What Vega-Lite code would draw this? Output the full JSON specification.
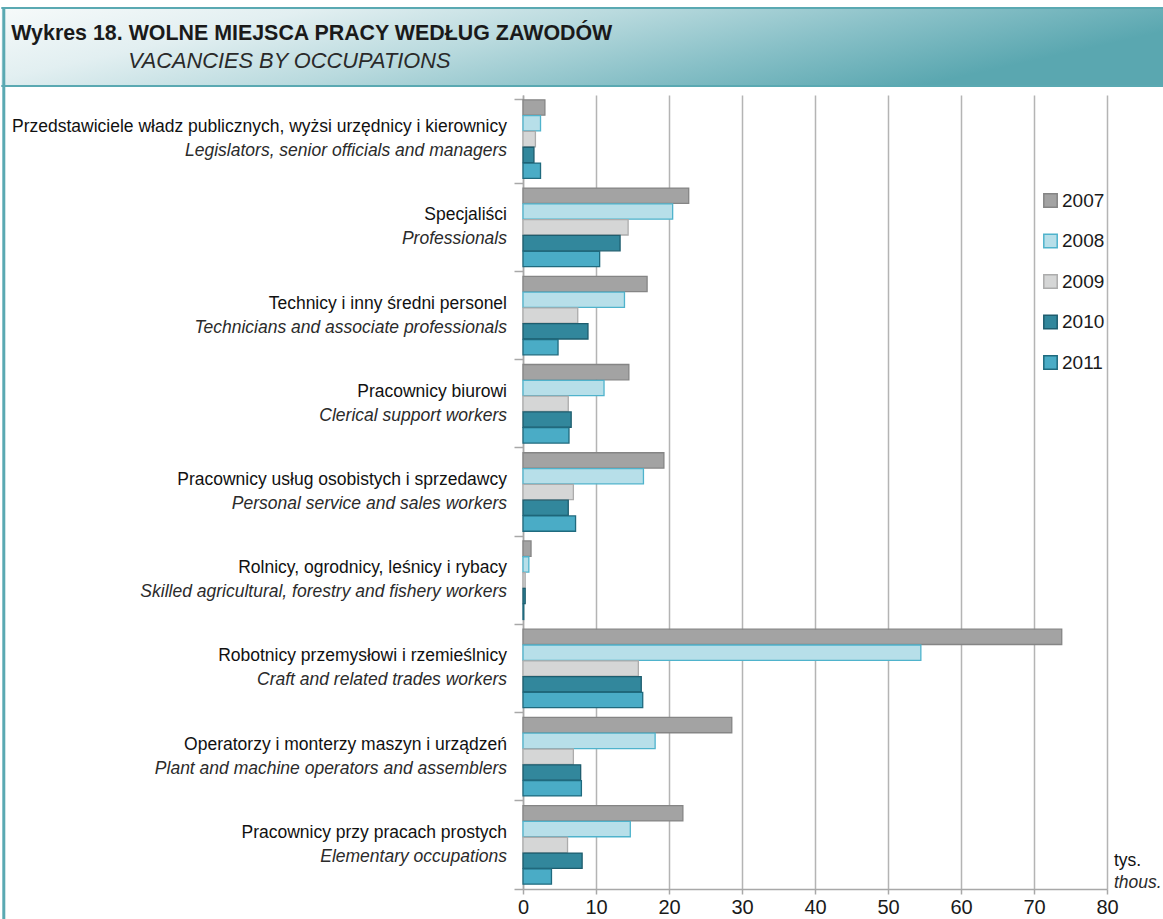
{
  "$schema": "https://vega.github.io/schema/vega-lite/v6.json",
  "background": "white",
  "padding": {"left": 0, "top": 6, "right": 0, "bottom": 0},
  "width": 584,
  "height": 794,
  "config": {
    "view": {"stroke": null},
    "font": "Liberation Sans",
    "legend": {
      "orient": "none", "legendX": 518, "legendY": 96,
      "symbolType": "square", "symbolSize": 180, "symbolStrokeWidth": 1.5,
      "labelFont": "Liberation Sans", "labelFontSize": 19, "labelColor": "#1a1a1a",
      "labelOffset": 2, "rowPadding": 19.5
    }
  },
  "datasets": {
    "bars": [
      {"occ": "Przedstawiciele", "year": "2007", "value": 3.0},
      {"occ": "Przedstawiciele", "year": "2008", "value": 2.4},
      {"occ": "Przedstawiciele", "year": "2009", "value": 1.7},
      {"occ": "Przedstawiciele", "year": "2010", "value": 1.5},
      {"occ": "Przedstawiciele", "year": "2011", "value": 2.4},
      {"occ": "Specjaliści", "year": "2007", "value": 22.7},
      {"occ": "Specjaliści", "year": "2008", "value": 20.5},
      {"occ": "Specjaliści", "year": "2009", "value": 14.4},
      {"occ": "Specjaliści", "year": "2010", "value": 13.3},
      {"occ": "Specjaliści", "year": "2011", "value": 10.5},
      {"occ": "Technicy", "year": "2007", "value": 17.0},
      {"occ": "Technicy", "year": "2008", "value": 13.9},
      {"occ": "Technicy", "year": "2009", "value": 7.5},
      {"occ": "Technicy", "year": "2010", "value": 8.9},
      {"occ": "Technicy", "year": "2011", "value": 4.8},
      {"occ": "Biurowi", "year": "2007", "value": 14.5},
      {"occ": "Biurowi", "year": "2008", "value": 11.1},
      {"occ": "Biurowi", "year": "2009", "value": 6.2},
      {"occ": "Biurowi", "year": "2010", "value": 6.6},
      {"occ": "Biurowi", "year": "2011", "value": 6.3},
      {"occ": "Usługi", "year": "2007", "value": 19.3},
      {"occ": "Usługi", "year": "2008", "value": 16.5},
      {"occ": "Usługi", "year": "2009", "value": 6.9},
      {"occ": "Usługi", "year": "2010", "value": 6.2},
      {"occ": "Usługi", "year": "2011", "value": 7.2},
      {"occ": "Rolnicy", "year": "2007", "value": 1.1},
      {"occ": "Rolnicy", "year": "2008", "value": 0.8},
      {"occ": "Rolnicy", "year": "2009", "value": 0.3},
      {"occ": "Rolnicy", "year": "2010", "value": 0.3},
      {"occ": "Rolnicy", "year": "2011", "value": 0.1},
      {"occ": "Robotnicy", "year": "2007", "value": 73.8},
      {"occ": "Robotnicy", "year": "2008", "value": 54.5},
      {"occ": "Robotnicy", "year": "2009", "value": 15.8},
      {"occ": "Robotnicy", "year": "2010", "value": 16.2},
      {"occ": "Robotnicy", "year": "2011", "value": 16.4},
      {"occ": "Operatorzy", "year": "2007", "value": 28.6},
      {"occ": "Operatorzy", "year": "2008", "value": 18.1},
      {"occ": "Operatorzy", "year": "2009", "value": 6.9},
      {"occ": "Operatorzy", "year": "2010", "value": 7.9},
      {"occ": "Operatorzy", "year": "2011", "value": 8.0},
      {"occ": "Proste", "year": "2007", "value": 21.9},
      {"occ": "Proste", "year": "2008", "value": 14.7},
      {"occ": "Proste", "year": "2009", "value": 6.1},
      {"occ": "Proste", "year": "2010", "value": 8.1},
      {"occ": "Proste", "year": "2011", "value": 3.9}
    ],
    "labels": [
      {"occ": "Przedstawiciele", "pl": "Przedstawiciele władz publicznych, wyżsi urzędnicy i kierownicy", "en": "Legislators, senior officials and managers"},
      {"occ": "Specjaliści", "pl": "Specjaliści", "en": "Professionals"},
      {"occ": "Technicy", "pl": "Technicy i inny średni personel", "en": "Technicians and associate professionals"},
      {"occ": "Biurowi", "pl": "Pracownicy biurowi", "en": "Clerical support workers"},
      {"occ": "Usługi", "pl": "Pracownicy usług osobistych i sprzedawcy", "en": "Personal service and sales workers"},
      {"occ": "Rolnicy", "pl": "Rolnicy, ogrodnicy, leśnicy i rybacy", "en": "Skilled agricultural, forestry and fishery workers"},
      {"occ": "Robotnicy", "pl": "Robotnicy przemysłowi i rzemieślnicy", "en": "Craft and related trades workers"},
      {"occ": "Operatorzy", "pl": "Operatorzy i monterzy maszyn i urządzeń", "en": "Plant and machine operators and assemblers"},
      {"occ": "Proste", "pl": "Pracownicy przy pracach prostych", "en": "Elementary occupations"}
    ],
    "unit": [
      {"occ": "Proste", "pl": "tys.", "en": "thous."}
    ],
    "header": [
      {"t": "Wykres 18. WOLNE MIEJSCA PRACY WEDŁUG ZAWODÓW", "s": "VACANCIES BY OCCUPATIONS"}
    ]
  },
  "resolve": {
    "scale": {"x": "independent", "y": "independent"},
    "axis": {"x": "independent", "y": "independent"}
  },
  "layer": [
    {
      "data": {"name": "header"},
      "layer": [
        {
          "mark": {
            "type": "rect",
            "fill": {
              "gradient": "linear", "x1": 0, "y1": 0, "x2": 1, "y2": 0.3,
              "stops": [
                {"offset": 0, "color": "#f6fafa"},
                {"offset": 0.25, "color": "#e2eff1"},
                {"offset": 0.5, "color": "#b9dade"},
                {"offset": 0.75, "color": "#88c0c7"},
                {"offset": 1, "color": "#5aa7b0"}
              ]
            }
          },
          "encoding": {
            "x": {"datum": 0, "scale": {"domain": [0, 1163], "range": [-521.7, 641.3], "nice": false, "zero": false}, "axis": null},
            "x2": {"datum": 1163},
            "y": {"datum": 0, "scale": {"domain": [0, 87], "range": [-87, 0], "nice": false, "zero": false}, "axis": null},
            "y2": {"datum": 78}
          }
        },
        {
          "mark": {"type": "rule", "color": "#5aa9b2", "strokeWidth": 2},
          "encoding": {
            "x": {"datum": 0, "axis": null}, "x2": {"datum": 1163},
            "y": {"datum": 0, "axis": null}
          }
        },
        {
          "mark": {"type": "rule", "color": "#5aa9b2", "strokeWidth": 2},
          "encoding": {
            "x": {"datum": 0, "axis": null}, "x2": {"datum": 1163},
            "y": {"datum": 78, "axis": null}
          }
        },
        {
          "mark": {"type": "rule", "color": "#5aa9b2", "strokeWidth": 3},
          "encoding": {
            "x": {"datum": 2.5, "axis": null},
            "y": {"datum": 0, "axis": null},
            "y2": {"datum": 912}
          }
        },
        {
          "mark": {"type": "text", "font": "Liberation Sans", "fontWeight": "bold", "fontSize": 21.4, "align": "left", "baseline": "alphabetic", "color": "#1a1a1a"},
          "encoding": {
            "x": {"datum": 10, "axis": null},
            "y": {"datum": 32, "axis": null},
            "text": {"field": "t"}
          }
        },
        {
          "mark": {"type": "text", "font": "Liberation Sans", "fontStyle": "italic", "fontSize": 21.8, "align": "left", "baseline": "alphabetic", "color": "#2a2a2a"},
          "encoding": {
            "x": {"datum": 127, "axis": null},
            "y": {"datum": 60, "axis": null},
            "text": {"field": "s"}
          }
        }
      ]
    },
    {
      "layer": [
        {
          "data": {"name": "bars"},
          "mark": {"type": "bar", "strokeWidth": 1.3},
          "encoding": {
            "y": {
              "field": "occ", "type": "nominal",
              "scale": {
                "domain": ["Przedstawiciele", "Specjaliści", "Technicy", "Biurowi", "Usługi", "Rolnicy", "Robotnicy", "Operatorzy", "Proste"],
                "paddingInner": 0.11, "paddingOuter": 0.055
              },
              "axis": {
                "title": null, "labels": false, "grid": false,
                "domainColor": "#a8a8a8", "domainWidth": 1.5,
                "tickColor": "#a8a8a8", "tickWidth": 1.5, "tickSize": 9,
                "bandPosition": 1.0618, "tickExtra": true
              }
            },
            "yOffset": {
              "field": "year", "type": "nominal",
              "scale": {"paddingInner": 0.03}
            },
            "x": {
              "field": "value", "type": "quantitative",
              "scale": {"domain": [0, 80], "nice": false},
              "axis": {
                "title": null, "values": [0, 10, 20, 30, 40, 50, 60, 70, 80],
                "grid": true, "gridColor": "#b4b4b4", "gridWidth": 1.5,
                "domainColor": "#a8a8a8", "domainWidth": 1.5,
                "tickColor": "#a8a8a8", "tickWidth": 1.5, "tickSize": 5,
                "labelFont": "Liberation Sans", "labelFontSize": 20, "labelColor": "#1a1a1a",
                "labelPadding": 3, "labelFlush": false, "labelOverlap": false
              }
            },
            "fill": {
              "field": "year", "type": "nominal",
              "scale": {"domain": ["2007", "2008", "2009", "2010", "2011"], "range": ["#a3a3a3", "#b7dfe9", "#d5d6d6", "#32879c", "#4aacc6"]},
              "legend": {"title": null}
            },
            "stroke": {
              "field": "year", "type": "nominal",
              "scale": {"domain": ["2007", "2008", "2009", "2010", "2011"], "range": ["#858585", "#4fb3cc", "#acacac", "#1e5d6e", "#1f6a7e"]},
              "legend": {"title": null}
            }
          }
        },
        {
          "data": {"name": "labels"},
          "mark": {"type": "text", "font": "Liberation Sans", "fontSize": 17.5, "align": "right", "baseline": "middle", "dx": -16, "dy": -12, "color": "#111111"},
          "encoding": {
            "y": {"field": "occ", "type": "nominal"},
            "x": {"datum": 0},
            "text": {"field": "pl"}
          }
        },
        {
          "data": {"name": "labels"},
          "mark": {"type": "text", "font": "Liberation Sans", "fontSize": 17.5, "fontStyle": "italic", "align": "right", "baseline": "middle", "dx": -16, "dy": 12, "color": "#2b2b2b"},
          "encoding": {
            "y": {"field": "occ", "type": "nominal"},
            "x": {"datum": 0},
            "text": {"field": "en"}
          }
        },
        {
          "data": {"name": "unit"},
          "mark": {"type": "text", "font": "Liberation Sans", "fontSize": 17.5, "align": "left", "baseline": "middle", "dx": 7, "dy": 16, "color": "#111111"},
          "encoding": {
            "y": {"field": "occ", "type": "nominal"},
            "x": {"datum": 80},
            "text": {"field": "pl"}
          }
        },
        {
          "data": {"name": "unit"},
          "mark": {"type": "text", "font": "Liberation Sans", "fontSize": 17.5, "fontStyle": "italic", "align": "left", "baseline": "middle", "dx": 7, "dy": 38, "color": "#2b2b2b"},
          "encoding": {
            "y": {"field": "occ", "type": "nominal"},
            "x": {"datum": 80},
            "text": {"field": "en"}
          }
        }
      ]
    }
  ]
}
